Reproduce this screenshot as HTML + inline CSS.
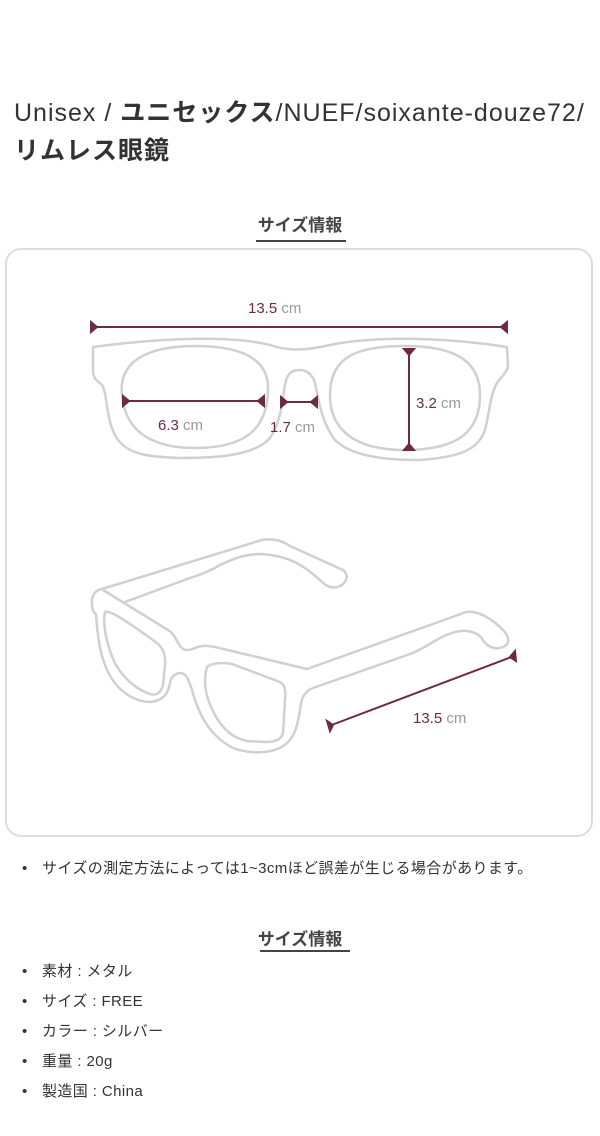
<!DOCTYPE html>
<html><head><meta charset="utf-8"><style>
body{margin:0;width:600px;height:1136px;background:#fff;font-family:"Liberation Sans","Noto Sans CJK JP",sans-serif;color:#333;position:relative;overflow:hidden}
.t{position:absolute;left:14px;font-size:25px;white-space:nowrap;color:#333;letter-spacing:1px}
.b{font-weight:bold}
.h{position:absolute;left:0;width:600px;text-align:center;font-size:17px;font-weight:bold;color:#444}
.ul{position:absolute;height:2px;background:#444}
.box{position:absolute;left:5px;top:248px;width:588px;height:589px;border:2px solid #ddd;border-radius:16px;box-sizing:border-box}
.li{position:absolute;left:22px;font-size:15px;color:#333;white-space:nowrap;letter-spacing:0.4px}
.li::before{content:"•";display:inline-block;width:20px}
</style></head><body>
<div class="t" style="top:93px">Unisex / <span class="b">ユニセックス</span>/NUEF/soixante-douze72/</div>
<div class="t b" style="top:131px">リムレス眼鏡</div>
<div class="h" style="top:211px">サイズ情報</div>
<div class="ul" style="left:256px;width:90px;top:240px"></div>
<div class="box"></div>
<svg style="position:absolute;left:0;top:0" width="600" height="1136">
<g fill="none" stroke="#d0d0d0" stroke-width="2.5" stroke-linejoin="round">
<path d="M93,347 C160,338 230,335 270,345 C285,350 300,352 330,345 C380,335 450,338 507,347 L508,367 C505,375 500,378 497,383 C490,395 490,410 485,430 C478,450 460,457 420,460 C380,460 350,455 335,440 C320,420 318,395 315,383 C312,373 305,370 300,370 C292,370 287,373 285,385 C282,400 282,420 270,438 C255,455 220,458 180,458 C150,457 125,455 115,435 C105,415 108,395 102,385 C96,380 93,378 93,370 Z"/>
<path d="M122,395 C118,360 150,346 195,346 C240,346 268,358 268,388 C268,425 250,448 195,448 C150,448 125,430 122,395 Z"/>
<path d="M330,395 C330,355 360,346 405,346 C450,346 480,358 480,395 C480,430 460,450 405,450 C355,450 330,430 330,395 Z"/>
<path d="M102,589 L262,540 C275,538 282,541 290,546 L343,570 C348,574 348,580 342,585 C335,589 328,588 322,582 C305,566 290,556 262,554 C245,554 235,558 220,565 C210,571 202,574 190,578 L125,602"/>
<path d="M102,589 C95,590 91,596 92,605 C92,610 94,613 96,614 C98,640 100,655 108,672 C118,692 135,702 150,702 C162,701 168,695 170,683 C171,677 175,673 180,673 C186,673 188,678 192,690 C198,712 208,735 233,748 C255,756 278,752 287,743 C296,735 298,722 300,710 C301,700 303,692 313,688 L413,653 C430,645 440,636 455,632 C467,629 478,632 483,640 C488,648 496,650 503,647 C510,644 510,637 503,630 C495,622 485,614 473,612 C467,611 463,613 458,615 L307,669 L215,647 C205,645 200,646 195,648 C188,651 184,651 180,646 C176,640 174,633 168,630 L103,590"/>
<path d="M105,612 C110,610 125,620 157,643 C163,648 166,655 165,665 L163,685 C161,693 156,696 150,694 C138,690 125,680 116,665 C108,650 102,625 105,612 Z"/>
<path d="M207,667 C212,663 222,662 232,664 L280,682 C285,685 286,690 285,700 L283,733 C281,740 275,742 265,742 L247,741 C232,738 222,728 215,715 C207,700 202,685 207,667 Z"/>
</g>
<g stroke="#6b2a45" stroke-width="2" fill="#6b2a45">
<line x1="92" y1="327" x2="506" y2="327"/>
<path d="M91,322 L97,327 L91,332 Z"/><path d="M507,322 L501,327 L507,332 Z"/>
<line x1="124" y1="401" x2="263" y2="401"/>
<path d="M123,396 L129,401 L123,406 Z"/><path d="M264,396 L258,401 L264,406 Z"/>
<line x1="282" y1="402" x2="316" y2="402"/>
<path d="M281,397 L287,402 L281,407 Z"/><path d="M317,397 L311,402 L317,407 Z"/>
<line x1="409" y1="350" x2="409" y2="449"/>
<path d="M404,349 L409,355 L414,349 Z"/><path d="M404,450 L409,444 L414,450 Z"/>
<line x1="329" y1="726" x2="514" y2="656"/>
<path d="M327,721 L333,725 L330,731 Z"/><path d="M515,651 L510,657 L516,661 Z"/>
</g>
<g font-family="Liberation Sans, sans-serif" font-size="15">
<text x="248" y="313" fill="#6b2a45">13.5 <tspan fill="#999">cm</tspan></text>
<text x="158" y="430" fill="#6b2a45">6.3 <tspan fill="#999">cm</tspan></text>
<text x="270" y="432" fill="#6b2a45">1.7 <tspan fill="#999">cm</tspan></text>
<text x="416" y="408" fill="#6b2a45">3.2 <tspan fill="#999">cm</tspan></text>
<text x="413" y="723" fill="#6b2a45">13.5 <tspan fill="#999">cm</tspan></text>
</g>
</svg>
<div class="li" style="top:857px">サイズの測定方法によっては1~3cmほど誤差が生じる場合があります。</div>
<div class="h" style="top:925px">サイズ情報</div>
<div class="ul" style="left:260px;width:90px;top:950px"></div>
<div class="li" style="top:960px">素材 : メタル</div>
<div class="li" style="top:990px">サイズ : FREE</div>
<div class="li" style="top:1020px">カラー : シルバー</div>
<div class="li" style="top:1050px">重量 : 20g</div>
<div class="li" style="top:1080px">製造国 : China</div>
</body></html>
